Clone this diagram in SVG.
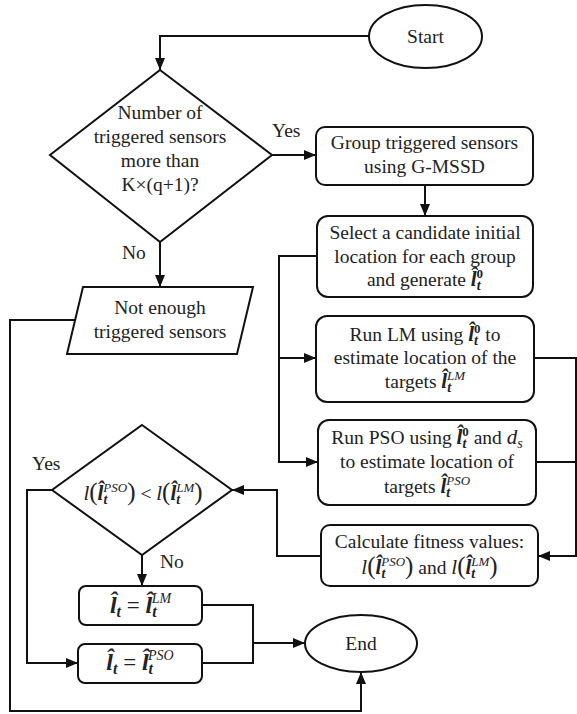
<svg xmlns="http://www.w3.org/2000/svg" width="577" height="714" viewBox="0 0 577 714">
<defs>
<marker id="ah" markerUnits="userSpaceOnUse" markerWidth="13" markerHeight="11" refX="12" refY="5" orient="auto">
<path d="M0,0 L12,5 L0,10 z" fill="#111"/>
</marker>
<style>
.shape{fill:#fff;stroke:#111;stroke-width:2}
.conn{fill:none;stroke:#111;stroke-width:2}
.lbl{font-family:'Liberation Serif','DejaVu Serif',serif;font-size:19.5px;fill:#222}
.c{text-anchor:middle}
.bi{font-weight:bold;font-style:italic;font-size:21px}
.mi{font-style:italic;font-size:21px}
.msub{font-style:italic;font-size:14px}
.sub{font-weight:bold;font-style:italic;font-size:14px}
.sup{font-style:italic;font-size:13px}
.sup0{font-weight:bold;font-size:13px}
.par{font-size:25px}
.eq{font-size:23px}
.eq .bi{font-size:24px}
.eq .sub{font-size:16px}
.eq .sup{font-size:14px}
</style>
</defs>
<rect width="577" height="714" fill="#fff"/>

<g id="connectors">
<path class="conn" d="M369,36 H160 V70" marker-end="url(#ah)"/>
<path class="conn" d="M272,155 H316" marker-end="url(#ah)"/>
<path class="conn" d="M425,185 V216" marker-end="url(#ah)"/>
<path class="conn" d="M160,242 V287" marker-end="url(#ah)"/>
<path class="conn" d="M317,256 H279 V462 H318" marker-end="url(#ah)"/>
<path class="conn" d="M279,358 H316" marker-end="url(#ah)"/>
<path class="conn" d="M534,358 H576 V556 H538" marker-end="url(#ah)"/>
<path class="conn" d="M536,462 H576"/>
<path class="conn" d="M321,556 H277 V490 H232" marker-end="url(#ah)"/>
<path class="conn" d="M75,320 H10 V711 H361 V672" marker-end="url(#ah)"/>
<path class="conn" d="M52,490 H27 V663 H78" marker-end="url(#ah)"/>
<path class="conn" d="M142,555 V586" marker-end="url(#ah)"/>
<path class="conn" d="M202,605 H253 V663 H202"/>
<path class="conn" d="M253,643 H305" marker-end="url(#ah)"/>
<text class="lbl" x="272" y="137">Yes</text>
<text class="lbl" x="122" y="259">No</text>
<text class="lbl" x="32" y="470">Yes</text>
<text class="lbl" x="160" y="568">No</text>
</g>

<g id="start">
<ellipse class="shape" cx="425.5" cy="36.5" rx="56.5" ry="31.5"/>
<text class="lbl c" x="425.5" y="43">Start</text>
</g>

<g id="decision1">
<polygon class="shape" points="160,70 272,155 160,242 50,155"/>
<text class="lbl c" x="160" y="119">Number of</text>
<text class="lbl c" x="160" y="143">triggered sensors</text>
<text class="lbl c" x="160" y="167">more than</text>
<text class="lbl c" x="160" y="191">K×(q+1)?</text>
</g>

<g id="group">
<rect class="shape" x="316" y="127" width="217" height="58" rx="9"/>
<text class="lbl c" x="424.5" y="149">Group triggered sensors</text>
<text class="lbl c" x="424.5" y="173">using G-MSSD</text>
</g>

<g id="select">
<rect class="shape" x="317" y="216" width="216" height="81" rx="11"/>
<text class="lbl c" x="425" y="239">Select a candidate initial</text>
<text class="lbl c" x="425" y="263">location for each group</text>
<text class="lbl c" x="425" y="286">and generate <tspan class="bi">l̂</tspan><tspan class="sub" dy="4">t</tspan><tspan class="sup0" dx="-4" dy="-12">0</tspan></text>
</g>

<g id="not-enough">
<polygon class="shape" points="83,287 253,287 237,354 67,354"/>
<text class="lbl c" x="160" y="314">Not enough</text>
<text class="lbl c" x="160" y="338">triggered sensors</text>
</g>

<g id="run-lm">
<rect class="shape" x="316" y="316" width="218" height="86" rx="11"/>
<text class="lbl c" x="425" y="341">Run LM using <tspan class="bi">l̂</tspan><tspan class="sub" dy="4">t</tspan><tspan class="sup0" dx="-4" dy="-12">0</tspan><tspan dy="8"> to</tspan></text>
<text class="lbl c" x="425" y="364">estimate location of the</text>
<text class="lbl c" x="425" y="388">targets <tspan class="bi">l̂</tspan><tspan class="sub" dy="4">t</tspan><tspan class="sup" dx="-4" dy="-12">LM</tspan></text>
</g>

<g id="run-pso">
<rect class="shape" x="318" y="420" width="218" height="85" rx="11"/>
<text class="lbl c" x="427" y="444">Run PSO using <tspan class="bi">l̂</tspan><tspan class="sub" dy="4">t</tspan><tspan class="sup0" dx="-4" dy="-12">0</tspan><tspan dy="8"> and </tspan><tspan class="mi">d</tspan><tspan class="msub" dy="4">s</tspan></text>
<text class="lbl c" x="427" y="468">to estimate location of</text>
<text class="lbl c" x="427" y="493">targets <tspan class="bi">l̂</tspan><tspan class="sub" dy="4">t</tspan><tspan class="sup" dx="-4" dy="-12">PSO</tspan></text>
</g>

<g id="calc">
<rect class="shape" x="321" y="525" width="217" height="61" rx="9"/>
<text class="lbl c" x="429.5" y="548">Calculate fitness values:</text>
<text class="lbl c" x="429.5" y="574"><tspan class="mi">l</tspan><tspan class="par">(</tspan><tspan class="bi">l̂</tspan><tspan class="sub" dy="4">t</tspan><tspan class="sup" dx="-4" dy="-12">PSO</tspan><tspan class="par" dy="8">)</tspan> and <tspan class="mi">l</tspan><tspan class="par">(</tspan><tspan class="bi">l̂</tspan><tspan class="sub" dy="4">t</tspan><tspan class="sup" dx="-4" dy="-12">LM</tspan><tspan class="par" dy="8">)</tspan></text>
</g>

<g id="decision2">
<polygon class="shape" points="142,425 232,490 142,555 52,490"/>
<text class="lbl c" x="143" y="500"><tspan class="mi">l</tspan><tspan class="par">(</tspan><tspan class="bi">l̂</tspan><tspan class="sub" dy="4">t</tspan><tspan class="sup" dx="-4" dy="-12">PSO</tspan><tspan class="par" dy="8">)</tspan> &lt; <tspan class="mi">l</tspan><tspan class="par">(</tspan><tspan class="bi">l̂</tspan><tspan class="sub" dy="4">t</tspan><tspan class="sup" dx="-4" dy="-12">LM</tspan><tspan class="par" dy="8">)</tspan></text>
</g>

<g id="assign-lm">
<rect class="shape" x="79" y="586" width="123" height="39" rx="7"/>
<text class="lbl c eq" x="140.5" y="613"><tspan class="bi">l̂</tspan><tspan class="sub" dy="4">t</tspan><tspan dy="-4"> = </tspan><tspan class="bi">l̂</tspan><tspan class="sub" dy="4">t</tspan><tspan class="sup" dx="-5" dy="-14">LM</tspan></text>
</g>

<g id="assign-pso">
<rect class="shape" x="78" y="644" width="124" height="39" rx="7"/>
<text class="lbl c eq" x="140" y="670"><tspan class="bi">l̂</tspan><tspan class="sub" dy="4">t</tspan><tspan dy="-4"> = </tspan><tspan class="bi">l̂</tspan><tspan class="sub" dy="4">t</tspan><tspan class="sup" dx="-5" dy="-14">PSO</tspan></text>
</g>

<g id="end">
<ellipse class="shape" cx="361" cy="643.5" rx="56" ry="28.5"/>
<text class="lbl c" x="361" y="650">End</text>
</g>
</svg>
